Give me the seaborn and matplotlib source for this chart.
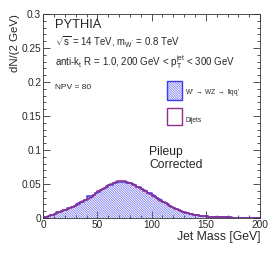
import numpy as np
import pandas as pd
import seaborn as sns
import matplotlib.pyplot as plt
from matplotlib.ticker import MultipleLocator
from matplotlib.patches import Rectangle

# jet mass bins (2 GeV wide, 0-200 GeV)
bin_edges = list(range(0, 202, 2))
bin_centers = [e + 1 for e in bin_edges[:-1]]

# W' -> WZ -> llqq' (normalised entries per bin)
wprime = [0.001, 0.002, 0.003, 0.004, 0.005, 0.006, 0.0075, 0.009, 0.010, 0.011,
          0.012, 0.014, 0.015, 0.016, 0.018, 0.020, 0.022, 0.024, 0.024, 0.026,
          0.033, 0.033, 0.032, 0.034, 0.036, 0.038, 0.041, 0.042, 0.044, 0.046,
          0.048, 0.049, 0.051, 0.052, 0.053, 0.053, 0.053, 0.053, 0.052, 0.052,
          0.051, 0.050, 0.048, 0.046, 0.045, 0.043, 0.041, 0.039, 0.037, 0.036,
          0.034, 0.032, 0.030, 0.028, 0.026, 0.024, 0.022, 0.020, 0.018, 0.016,
          0.0145, 0.013, 0.012, 0.010, 0.009, 0.008, 0.007, 0.006, 0.0055, 0.005,
          0.0045, 0.004, 0.0035, 0.003, 0.0026, 0.0023, 0.002, 0.0018, 0.0016, 0.0014,
          0.0012, 0.0011, 0.001, 0.0009, 0.0008, 0.0007, 0.0007, 0.0006, 0.0006, 0.0005,
          0.0005, 0.0004, 0.0004, 0.0004, 0.0003, 0.0003, 0.0003, 0.0003, 0.0002, 0.0002]

# Dijets
dijets = [0.001, 0.002, 0.003, 0.0045, 0.005, 0.006, 0.008, 0.009, 0.010, 0.0115,
          0.012, 0.0135, 0.015, 0.0165, 0.018, 0.0195, 0.021, 0.023, 0.025, 0.027,
          0.028, 0.029, 0.031, 0.034, 0.036, 0.039, 0.041, 0.042, 0.044, 0.047,
          0.049, 0.050, 0.052, 0.053, 0.054, 0.055, 0.055, 0.054, 0.053, 0.052,
          0.051, 0.049, 0.048, 0.046, 0.044, 0.042, 0.040, 0.039, 0.037, 0.035,
          0.033, 0.031, 0.030, 0.027, 0.025, 0.023, 0.022, 0.019, 0.017, 0.016,
          0.014, 0.013, 0.011, 0.010, 0.009, 0.0075, 0.007, 0.006, 0.0055, 0.0048,
          0.0042, 0.0038, 0.0033, 0.003, 0.0026, 0.0022, 0.002, 0.0017, 0.0015, 0.0013,
          0.0012, 0.001, 0.001, 0.0009, 0.0008, 0.0007, 0.0006, 0.0006, 0.0005, 0.0005,
          0.0005, 0.0004, 0.0004, 0.0003, 0.0003, 0.0003, 0.0003, 0.0002, 0.0002, 0.0002]

df = pd.DataFrame({"mass": bin_centers, "wprime": wprime, "dijets": dijets})

sns.set_theme(style="ticks")
plt.rcParams['font.family'] = ['Liberation Sans', 'DejaVu Sans']
plt.rcParams['mathtext.fontset'] = 'custom'
plt.rcParams['mathtext.rm'] = 'Liberation Sans'
plt.rcParams['mathtext.it'] = 'Liberation Sans'
plt.rcParams['hatch.linewidth'] = 0.5

blue = '#3b3bf0'
hatch_col = '#6a6af2'
purple = '#8e2e8e'
dense_hatch = '\\' * 14

fig = plt.figure(figsize=(2.74, 2.61), dpi=100)
ax = fig.add_axes([0.158, 0.165, 0.791, 0.781])

# hatched W' fill
sns.histplot(data=df, x="mass", weights="wprime", bins=bin_edges, element="step",
             fill=True, color=blue, linewidth=0, alpha=1, ax=ax)
fill = ax.collections[-1]
fill.set_facecolor('none')
fill.set_edgecolor(hatch_col)
fill.set_hatch(dense_hatch)
sns.histplot(data=df, x="mass", weights="wprime", bins=bin_edges, element="step",
             fill=False, color=blue, linewidth=1.1, ax=ax)
sns.histplot(data=df, x="mass", weights="dijets", bins=bin_edges, element="step",
             fill=False, color=purple, linewidth=1.1, ax=ax)

ax.set_xlim(0, 200)
ax.set_ylim(0, 0.3)
ax.xaxis.set_major_locator(MultipleLocator(50))
ax.xaxis.set_minor_locator(MultipleLocator(10))
ax.yaxis.set_major_locator(MultipleLocator(0.05))
ax.yaxis.set_minor_locator(MultipleLocator(0.01))
ax.set_yticks([0, 0.05, 0.1, 0.15, 0.2, 0.25, 0.3])
ax.set_yticklabels(['0', '0.05', '0.1', '0.15', '0.2', '0.25', '0.3'])
ax.set_xticks([0, 50, 100, 150, 200])
ax.set_xticklabels(['0', '50', '100', '150', '200'])
ax.tick_params(which='both', direction='in', top=True, right=True, width=0.6,
               color='#333333', labelsize=7.3, pad=1.5)
ax.tick_params(which='major', length=5)
ax.tick_params(which='minor', length=2.5)
for s in ax.spines.values():
    s.set_linewidth(0.6)
    s.set_color('#333333')

ax.set_xlabel("Jet Mass [GeV]", fontsize=8.8, loc='right', labelpad=1)
ax.set_ylabel("dN/(2 GeV)", fontsize=8.2, loc='top', labelpad=1)

ax.text(10.5, 0.284, "PYTHIA", fontsize=9.3, va='center')
ax.text(10.5, 0.258, r"$\sqrt{s}$ = 14 TeV, m$_{W'}$ = 0.8 TeV", fontsize=6.9, va='center')
ax.text(10.5, 0.230, r"anti-k$_{t}$ R = 1.0, 200 GeV < p$_{T}^{jet}$ < 300 GeV",
        fontsize=7.0, va='center')
ax.text(10.5, 0.192, "NPV = 80", fontsize=6.0, va='center')

ax.add_patch(Rectangle((114, 0.174), 14, 0.027, facecolor='none', edgecolor=hatch_col,
                       hatch=dense_hatch, linewidth=0))
ax.add_patch(Rectangle((114, 0.174), 14, 0.027, facecolor='none', edgecolor=blue,
                       linewidth=1.0))
ax.add_patch(Rectangle((114, 0.137), 14, 0.025, facecolor='none', edgecolor=purple,
                       linewidth=1.0))
ax.text(131, 0.184, r"W' $\rightarrow$ WZ $\rightarrow$ llqq'", fontsize=4.7, va='center')
ax.text(131, 0.144, "Dijets", fontsize=4.7, va='center')

ax.text(98, 0.0975, "Pileup", fontsize=8.7, va='center')
ax.text(98, 0.078, "Corrected", fontsize=8.7, va='center')

fig.savefig("out.png", dpi=100)
